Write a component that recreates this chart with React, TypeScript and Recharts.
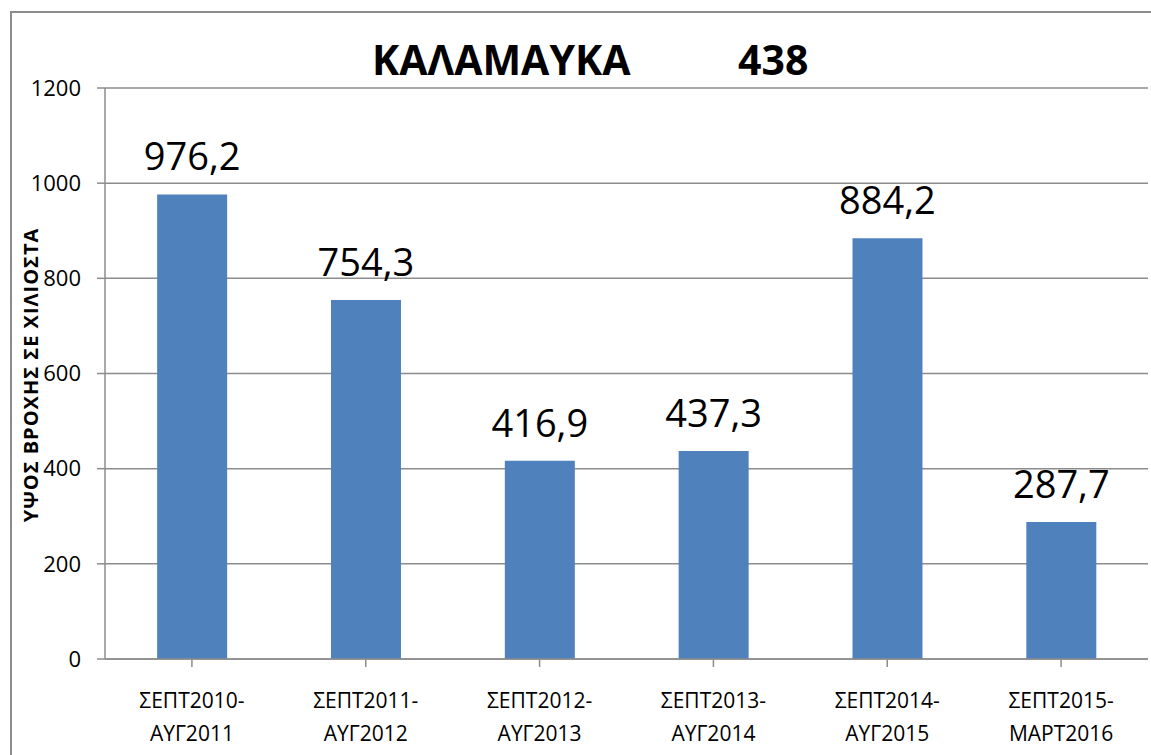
import { BarChart, Bar, XAxis, YAxis, CartesianGrid, LabelList } from 'recharts';

const periods = [
    'ΣΕΠΤ2010-\nΑΥΓ2011',
    'ΣΕΠΤ2011-\nΑΥΓ2012',
    'ΣΕΠΤ2012-\nΑΥΓ2013',
    'ΣΕΠΤ2013-\nΑΥΓ2014',
    'ΣΕΠΤ2014-\nΑΥΓ2015',
    'ΣΕΠΤ2015-\nΜΑΡΤ2016',
];
const rainfall = [976.2, 754.3, 416.9, 437.3, 884.2, 287.7];
const yTicks = [0, 200, 400, 600, 800, 1000, 1200];
const stationName = 'ΚΑΛΑΜΑΥΚΑ';
const stationCode = '438';

const data = periods.map((period, i) => ({ period, rain: rainfall[i] }));

const FONT = '"Open Sans", sans-serif';

function PeriodTick(props: any) {
    const { x, y, payload } = props;
    const lines = String(payload.value).split('\n');
    return (
        <g transform={`translate(${x},${y})`}>
            {lines.map((line, i) => (
                <text
                    key={i}
                    x={0}
                    y={39 + i * 33}
                    textAnchor="middle"
                    fontFamily={FONT}
                    fontSize={21}
                    fill="#000"
                >
                    {line}
                </text>
            ))}
        </g>
    );
}

export default function App() {
    return (
        <div style={{ position: 'absolute', left: 0, top: 0, width: 1151, height: 755, background: '#fff', overflow: 'hidden' }}>
            <div
                style={{
                    position: 'absolute',
                    left: 10,
                    top: 11,
                    width: 1200,
                    height: 800,
                    borderLeft: '2px solid #8c8c8c',
                    borderTop: '2px solid #8c8c8c',
                }}
            />
            <div style={{ position: 'absolute', left: 0, top: 0 }}>
                <BarChart
                    width={1151}
                    height={755}
                    data={data}
                    margin={{ top: 88, right: 3, bottom: 0, left: 0 }}
                    barCategoryGap="30%"
                >
                    <CartesianGrid vertical={false} stroke="#8c8c8c" strokeWidth={1.5} />
                    <XAxis
                        dataKey="period"
                        height={96}
                        interval={0}
                        tick={<PeriodTick />}
                        tickLine={{ stroke: '#8c8c8c', strokeWidth: 1.5 }}
                        axisLine={{ stroke: '#8c8c8c', strokeWidth: 1.5 }}
                        tickSize={8}
                    />
                    <YAxis
                        width={105}
                        domain={[0, 1200]}
                        ticks={yTicks}
                        interval={0}
                        tickSize={8}
                        tickMargin={16}
                        tick={{ fill: '#000', fontSize: 22, fontFamily: FONT }}
                        tickLine={{ stroke: '#8c8c8c', strokeWidth: 1.5 }}
                        axisLine={{ stroke: '#8c8c8c', strokeWidth: 1.5 }}
                    />
                    <Bar dataKey="rain" fill="#4f81bd" isAnimationActive={false}>
                        <LabelList
                            dataKey="rain"
                            position="top"
                            offset={24}
                            formatter={(v: any) => String(v).replace('.', ',')}
                            style={{ fill: '#000', fontSize: 38, fontFamily: FONT }}
                        />
                    </Bar>
                </BarChart>
            </div>
            <svg width={1151} height={755} style={{ position: 'absolute', left: 0, top: 0, pointerEvents: 'none' }}>
                <text x={372} y={75} fontFamily={FONT} fontWeight={700} fontSize={41} fill="#000">
                    {stationName}
                </text>
                <text x={738} y={75} fontFamily={FONT} fontWeight={700} fontSize={41} fill="#000">
                    {stationCode}
                </text>
                <text
                    transform="translate(38,375) rotate(-90)"
                    textAnchor="middle"
                    fontFamily={FONT}
                    fontWeight={700}
                    fontSize={20}
                    letterSpacing={1}
                    fill="#000"
                >
                    ΥΨΟΣ ΒΡΟΧΗΣ ΣΕ ΧΙΛΙΟΣΤΑ
                </text>
            </svg>
        </div>
    );
}
